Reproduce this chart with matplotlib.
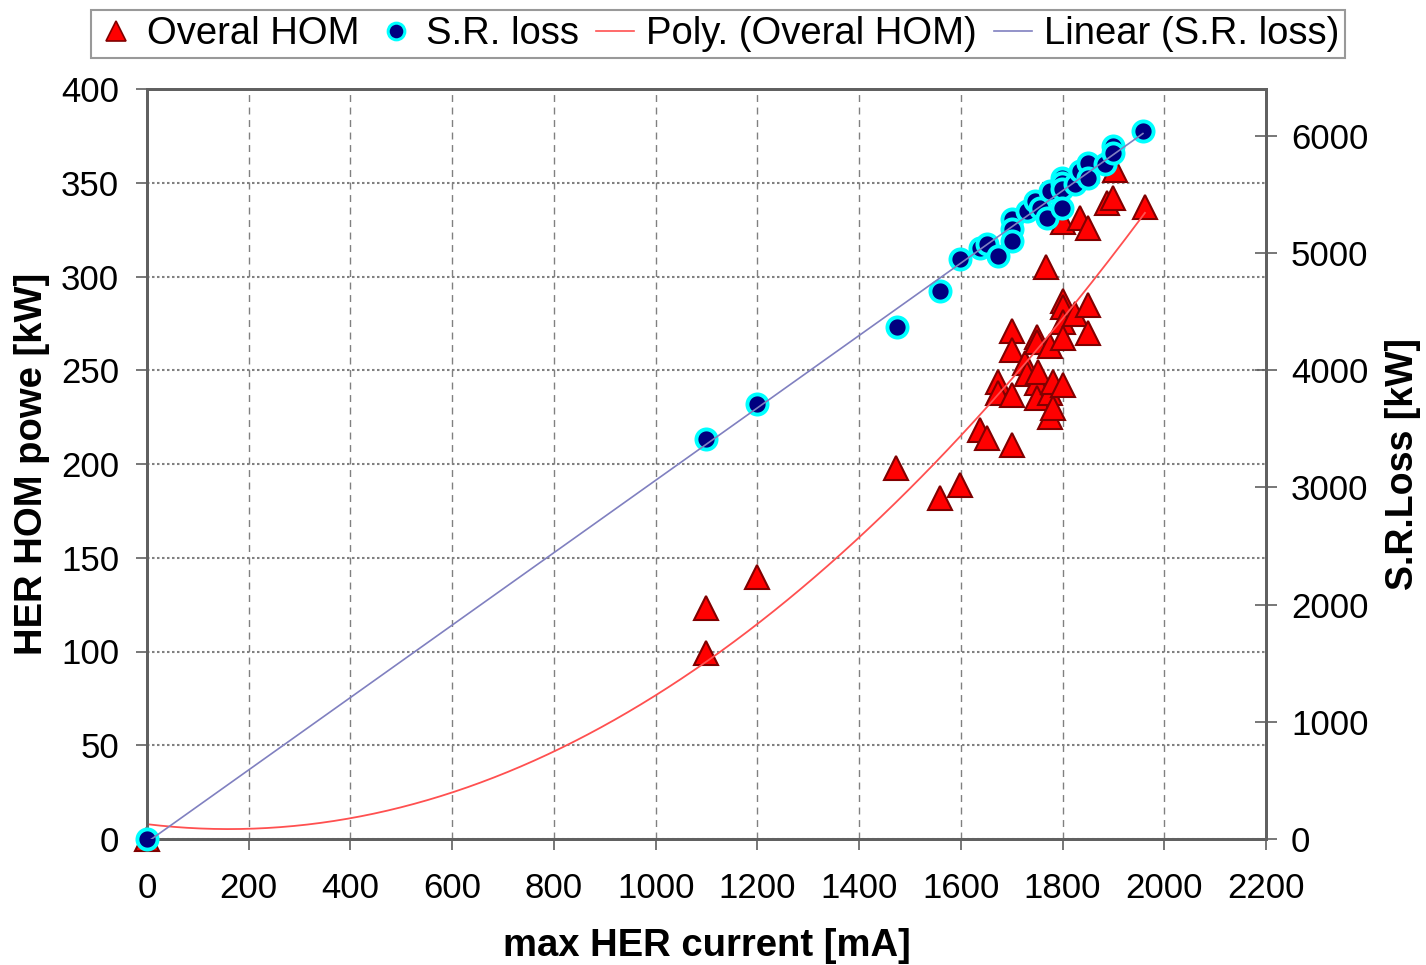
import numpy as np
import matplotlib
matplotlib.use("Agg")
import matplotlib.pyplot as plt
from matplotlib.lines import Line2D

plt.rcParams['font.family'] = ['Liberation Sans', 'DejaVu Sans']

# Overal HOM (left axis, kW) vs max HER current (mA)
hom_x = [0, 1099, 1099, 1199, 1473, 1559, 1598, 1638, 1651, 1673, 1673, 1701, 1701,
         1701, 1701, 1726, 1730, 1750, 1750, 1750, 1750, 1752, 1768, 1775, 1775,
         1775, 1781, 1781, 1801, 1801, 1801, 1801, 1801, 1801, 1825, 1834, 1850,
         1850, 1850, 1887, 1899, 1903, 1962]
hom_y = [0, 123, 99, 140, 198, 182, 189, 218, 214, 244, 238, 271, 261, 237, 210,
         254, 248, 268, 265, 243, 235, 249, 305, 263, 238, 225, 244, 230, 287, 284,
         276, 267, 242, 329, 280, 331, 285, 270, 326, 339, 342, 357, 337]

# S.R. loss (right axis, kW)
sr_x = [0, 1099, 1199, 1475, 1559, 1598, 1638, 1651, 1673, 1701, 1701, 1701, 1730,
        1746, 1756, 1769, 1775, 1799, 1799, 1799, 1799, 1825, 1834, 1850, 1850,
        1884, 1899, 1899, 1958]
sr_y = [0, 3410, 3708, 4373, 4680, 4953, 5047, 5081, 4979, 5294, 5209, 5107, 5362,
        5447, 5388, 5303, 5533, 5644, 5601, 5550, 5388, 5592, 5703, 5771, 5644,
        5763, 5916, 5857, 6044]

x_ticks = list(range(0, 2201, 200))
left_ticks = list(range(0, 401, 50))
right_ticks = list(range(0, 6001, 1000))

fig = plt.figure(figsize=(14.26, 9.65), dpi=100)
ax = fig.add_axes([147/1426, 1-839/965, (1266-147)/1426, (839-89)/965])
ax2 = ax.twinx()

spine_c = '#606060'
grid_c = '#808080'

# trendlines (least squares, as the spreadsheet does)
pcoef = np.polyfit(hom_x, hom_y, 2)
xp = np.linspace(0, max(hom_x), 300)
lcoef = np.polyfit(sr_x, sr_y, 1)
xl = np.linspace(0, max(sr_x), 50)

ax.plot(hom_x, hom_y, linestyle='none', marker='^', markersize=17,
        markerfacecolor='#FF0000', markeredgecolor='#800000', markeredgewidth=1.5,
        zorder=3, clip_on=False)
ax.plot(xp, np.polyval(pcoef, xp), color='#FF5050', lw=1.3, zorder=4)

ax2.plot(sr_x, sr_y, linestyle='none', marker='o', markersize=14.5,
         markerfacecolor='#000080', markeredgecolor='#00FFFF', markeredgewidth=2.8,
         zorder=3, clip_on=False)
ax2.plot(xl, np.polyval(lcoef, xl), color='#8080C0', lw=1.2, zorder=4)

ax.set_xlim(0, 2200)
ax.set_ylim(0, 400)
ax2.set_ylim(0, 6400)
ax.set_xticks(x_ticks)
ax.set_yticks(left_ticks)
ax2.set_yticks(right_ticks)

ax.xaxis.grid(True, linestyle=(0, (5, 4)), color=grid_c, lw=1.0)
ax.yaxis.grid(True, linestyle=(0, (1.2, 1.2)), color=grid_c, lw=1.5)
ax.set_axisbelow(True)

for a in (ax, ax2):
    for s in a.spines.values():
        s.set_color(spine_c)
        s.set_linewidth(2)
    a.set_facecolor('none')

ax.tick_params(axis='x', direction='out', length=8, width=1.2, color=spine_c,
               labelsize=25, pad=16)
ax.tick_params(axis='y', direction='out', length=8, width=1.2, color=spine_c,
               labelsize=25, pad=12)
ax2.tick_params(axis='y', direction='inout', length=16, width=1.2, color=spine_c,
                labelsize=25, pad=10)

ax.set_xlabel('max HER current [mA]', fontsize=27.5, fontweight='bold', labelpad=16)
ax.set_ylabel('HER HOM powe [kW]', fontsize=27.5, fontweight='bold', labelpad=8)
ax2.set_ylabel('S.R.Loss [kW]', fontsize=27, fontweight='bold', rotation=90, labelpad=12)

handles = [
    Line2D([], [], linestyle='none', marker='^', markersize=15, markerfacecolor='#FF0000',
           markeredgecolor='#800000', markeredgewidth=1.2),
    Line2D([], [], linestyle='none', marker='o', markersize=12, markerfacecolor='#000080',
           markeredgecolor='#00FFFF', markeredgewidth=2.2),
    Line2D([], [], color='#FF5050', lw=1.2),
    Line2D([], [], color='#8080C0', lw=1.2),
]
labels = ['Overal HOM', 'S.R. loss', 'Poly. (Overal HOM)', 'Linear (S.R. loss)']
leg = fig.legend(handles, labels, loc='center', bbox_to_anchor=(718/1426, 1-34/965),
                 ncol=4, fontsize=27.5, frameon=True, fancybox=False, handlelength=1.0,
                 handletextpad=0.3, columnspacing=0.45, borderpad=0.15)
leg.get_frame().set_edgecolor('#808080')
leg.get_frame().set_linewidth(1.5)

fig.savefig('out.png', dpi=100)
